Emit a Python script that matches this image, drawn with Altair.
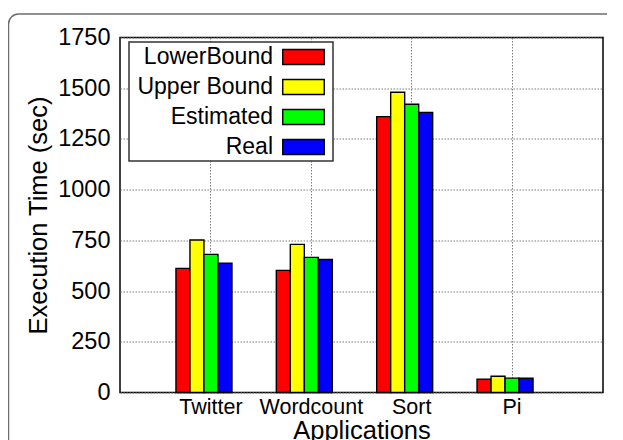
import altair as alt
import pandas as pd

apps = ["Twitter", "Wordcount", "Sort", "Pi"]
series = ["LowerBound", "Upper Bound", "Estimated", "Real"]
colors = ["#ff0000", "#ffff00", "#00ff00", "#0000ff"]
lower_bound = [612, 602, 1360, 65]
upper_bound = [752, 730, 1480, 80]
estimated = [681, 666, 1421, 71]
real = [638, 656, 1381, 70]
y_ticks = [0, 250, 500, 750, 1000, 1250, 1500, 1750]

FONT = "Liberation Sans"

rows = []
for i, a in enumerate(apps):
    for s, vals in zip(series, [lower_bound, upper_bound, estimated, real]):
        rows.append({"app": a, "series": s, "value": vals[i]})
df = pd.DataFrame(rows)
leg_df = pd.DataFrame({"series": series})
one = pd.DataFrame({"k": [0]})

W, H = 483, 355

bars = alt.Chart(df).mark_bar(stroke="black", strokeWidth=1.4).encode(
    x=alt.X("app:N", sort=apps,
            scale=alt.Scale(paddingInner=0.3025, paddingOuter=0.5576),
            axis=alt.Axis(title="Applications", labelAngle=0, labelFontSize=21.5,
                          labelPadding=4, ticks=False, domain=False, grid=True,
                          bandPosition=0.5, titleFontSize=25.5, titlePadding=0,
                          titleFontWeight="normal")),
    xOffset=alt.XOffset("series:N",
                        scale=alt.Scale(domain=series + ["gap"], paddingInner=0, paddingOuter=0)),
    y=alt.Y("value:Q", scale=alt.Scale(domain=[0, 1750], nice=False),
            axis=alt.Axis(title="Execution Time (sec)", values=y_ticks, format="d",
                          labelFontSize=23.5, labelPadding=10, ticks=False, domain=False,
                          grid=True, titleFontSize=25.5, titlePadding=6,
                          titleFontWeight="normal")),
    color=alt.Color("series:N", scale=alt.Scale(domain=series, range=colors), legend=None),
)

frame = alt.Chart(one).mark_rect(filled=False, stroke="#6e6e6e", strokeWidth=1.5,
                                 cornerRadiusTopLeft=10).encode(
    x=alt.value(-111.5), x2=alt.value(W + 300), y=alt.value(-23.5), y2=alt.value(H + 300)
)

leg_box = alt.Chart(one).mark_rect(fill="white", stroke="#333333", strokeWidth=1.5).encode(
    x=alt.value(9), x2=alt.value(213), y=alt.value(4.5), y2=alt.value(123.5)
)

leg_y = alt.Y("series:N", scale=alt.Scale(type="point", domain=series, range=[19.5, 109.5], padding=0),
              axis=None)

leg_text = alt.Chart(leg_df).mark_text(align="right", baseline="middle", fontSize=23,
                                       font=FONT, color="black").encode(
    x=alt.value(153), y=leg_y, text="series:N"
)

leg_sw = alt.Chart(leg_df).mark_point(shape="M-1,-0.36H1V0.36H-1Z", size=1722, filled=True,
                                      opacity=1, stroke="black", strokeWidth=1.4).encode(
    x=alt.value(183.5), y=leg_y,
    fill=alt.Fill("series:N", scale=alt.Scale(domain=series, range=colors), legend=None),
)

chart = alt.layer(frame, bars, leg_box, leg_text, leg_sw).resolve_scale(
    y="independent"
).properties(
    width=W, height=H,
    autosize=alt.AutoSizeParams(type="none"),
    padding={"left": 112, "top": 29.5, "right": 4, "bottom": 47.5},
).configure_view(
    stroke="black", strokeWidth=1.5
).configure_axis(
    labelFont=FONT, titleFont=FONT, labelColor="black", titleColor="black",
    gridColor="#7a7a7a", gridDash=[1.5, 1.5], gridWidth=1, gridOpacity=1,
)

chart.save("out.html", embed_options={"renderer": "svg", "actions": False})
